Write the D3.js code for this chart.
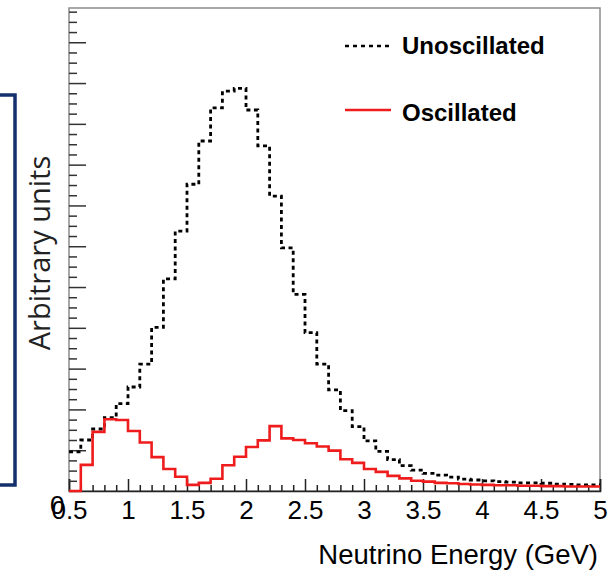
<!DOCTYPE html>
<html>
<head>
<meta charset="utf-8">
<script src="https://cdn.jsdelivr.net/npm/d3@7"></script>
<style>
    body { margin: 0; background: #fff; }
    svg { display: block; }
</style>
</head>
<body>
<div id="chart"></div>
<script>
// bin lower edges (GeV), 0.1 GeV wide
const binLow = [0.5, 0.6, 0.7, 0.8, 0.9, 1.0, 1.1, 1.2, 1.3, 1.4,
    1.5, 1.6, 1.7, 1.8, 1.9, 2.0, 2.1, 2.2, 2.3, 2.4,
    2.5, 2.6, 2.7, 2.8, 2.9, 3.0, 3.1, 3.2, 3.3, 3.4,
    3.5, 3.6, 3.7, 3.8, 3.9, 4.0, 4.1, 4.2, 4.3, 4.4,
    4.5, 4.6, 4.7, 4.8, 4.9];
const binWidth = 0.1;

const unoscillated = [0.096, 0.125, 0.152, 0.180, 0.214, 0.255, 0.311, 0.401, 0.520, 0.637,
    0.752, 0.858, 0.939, 0.980, 0.987, 0.934, 0.846, 0.723, 0.596, 0.482,
    0.388, 0.311, 0.248, 0.197, 0.158, 0.123, 0.097, 0.077, 0.062, 0.051,
    0.043, 0.039, 0.034, 0.029, 0.027, 0.025, 0.023, 0.022, 0.020, 0.020,
    0.019, 0.017, 0.016, 0.015, 0.015];

const oscillated = [0.000, 0.064, 0.145, 0.176, 0.174, 0.147, 0.119, 0.083, 0.054, 0.035,
    0.015, 0.020, 0.030, 0.063, 0.084, 0.108, 0.124, 0.159, 0.129, 0.125,
    0.117, 0.109, 0.099, 0.078, 0.069, 0.054, 0.047, 0.037, 0.031, 0.025,
    0.023, 0.020, 0.019, 0.017, 0.016, 0.015, 0.014, 0.014, 0.013, 0.013,
    0.012, 0.012, 0.011, 0.011, 0.011];

const xTicks = [0.5, 1, 1.5, 2, 2.5, 3, 3.5, 4, 4.5, 5];
const xTickLabels = ["0.5", "1", "1.5", "2", "2.5", "3", "3.5", "4", "4.5", "5"];

const width = 608;
const height = 573;
const marginTop = 8;
const marginRight = 8;
const marginBottom = 82;
const marginLeft = 69;

const svg = d3.select('#chart')
    .append('svg')
    .attr('width', width)
    .attr('height', height)
    .attr('viewBox', [0, 0, width, height]);

const x = d3.scaleLinear()
    .domain([0.5, 5])
    .range([marginLeft, width - marginRight]);

const y = d3.scaleLinear()
    .domain([0, 1.184])
    .range([height - marginBottom, marginTop]);

// blue bracket at the left edge (from the slide)
svg.append('path')
    .attr('d', `M0,95 H15 V485 H0`)
    .attr('fill', 'none')
    .attr('stroke', '#14306c')
    .attr('stroke-width', 3.5);

// frame
svg.append('rect')
    .attr('x', x(0.5))
    .attr('y', y(1.184))
    .attr('width', x(5) - x(0.5))
    .attr('height', y(0) - y(1.184))
    .attr('fill', 'none')
    .attr('stroke', '#8c8c8c')
    .attr('stroke-width', 1.5);

// x axis: minor ticks then major ticks with labels
const xMinor = binLow.concat([5]).filter(v => !xTicks.some(t => Math.abs(t - v) < 1e-9));
svg.append('g')
    .attr('transform', `translate(0,${y(0)})`)
    .call(d3.axisBottom(x).tickValues(xMinor).tickSize(-6).tickFormat(''))
    .call(g => g.select('.domain').remove())
    .call(g => g.selectAll('line').attr('stroke', '#222').attr('stroke-width', 1.5));

// stray y-axis "0" hiding behind the 0.5 label in the original
svg.append('text')
    .attr('x', x(0.5) - 19)
    .attr('y', y(0) + 23)
    .attr('fill', '#000')
    .style('font-family', '"Liberation Sans", Arial, sans-serif')
    .style('font-size', '26px')
    .text('0');

svg.append('g')
    .attr('transform', `translate(0,${y(0)})`)
    .call(d3.axisBottom(x).tickValues(xTicks).tickSize(-12).tickPadding(10)
        .tickFormat((d, i) => xTickLabels[i]))
    .call(g => g.select('.domain').attr('stroke', '#222').attr('stroke-width', 1.5))
    .call(g => g.selectAll('line').attr('stroke', '#222').attr('stroke-width', 1.5))
    .call(g => g.selectAll('text')
        .attr('fill', '#000')
        .style('font-family', '"Liberation Sans", Arial, sans-serif')
        .style('font-size', '26px'));

// y axis ticks, no labels
const yMajor = d3.ticks(0, 1.184, 12).filter(v => v > 0);
const yMinor = d3.range(1, 48).map(i => i * 0.025).filter(v => Math.abs(v * 10 - Math.round(v * 10)) > 1e-6);
svg.append('g')
    .attr('transform', `translate(${x(0.5)},0)`)
    .call(d3.axisLeft(y).tickValues(yMinor).tickSize(-8).tickFormat(''))
    .call(g => g.select('.domain').remove())
    .call(g => g.selectAll('line').attr('stroke', '#333').attr('stroke-width', 1.5));
svg.append('g')
    .attr('transform', `translate(${x(0.5)},0)`)
    .call(d3.axisLeft(y).tickValues(yMajor).tickSize(-17).tickFormat(''))
    .call(g => g.select('.domain').remove())
    .call(g => g.selectAll('line').attr('stroke', '#333').attr('stroke-width', 1.5));

// histograms as step lines
const step = d3.line()
    .x(d => x(d[0]))
    .y(d => y(d[1]))
    .curve(d3.curveStepAfter);

function histPoints(values) {
    const pts = binLow.map((lo, i) => [lo, values[i]]);
    pts.push([binLow[binLow.length - 1] + binWidth, values[values.length - 1]]);
    return pts;
}

svg.append('path')
    .datum(histPoints(unoscillated))
    .attr('d', step)
    .attr('fill', 'none')
    .attr('stroke', '#000')
    .attr('stroke-width', 2.8)
    .attr('stroke-dasharray', '4,3.5');

svg.append('path')
    .datum(histPoints(oscillated))
    .attr('d', step)
    .attr('fill', 'none')
    .attr('stroke', '#ee1c1c')
    .attr('stroke-width', 2.6);

// legend
const legend = svg.append('g')
    .style('font-family', '"Liberation Sans", Arial, sans-serif')
    .style('font-weight', 'bold')
    .style('font-size', '24px');

legend.append('line')
    .attr('x1', 345).attr('x2', 390).attr('y1', 46).attr('y2', 46)
    .attr('stroke', '#000').attr('stroke-width', 2.6).attr('stroke-dasharray', '4,4');
legend.append('text')
    .attr('x', 402).attr('y', 54)
    .text('Unoscillated');

legend.append('line')
    .attr('x1', 345).attr('x2', 391).attr('y1', 110).attr('y2', 110)
    .attr('stroke', '#ee1c1c').attr('stroke-width', 2.6);
legend.append('text')
    .attr('x', 402).attr('y', 121)
    .text('Oscillated');

// axis titles
svg.append('text')
    .attr('x', 598)
    .attr('y', 564)
    .attr('text-anchor', 'end')
    .style('font-family', '"Liberation Sans", Arial, sans-serif')
    .style('font-size', '27.5px')
    .text('Neutrino Energy (GeV)');

svg.append('text')
    .attr('transform', 'translate(50,253) rotate(-90)')
    .attr('text-anchor', 'middle')
    .style('font-family', '"Open Sans", sans-serif')
    .style('font-size', '29px')
    .attr('fill', '#222')
    .text('Arbitrary units');
</script>
</body>
</html>
